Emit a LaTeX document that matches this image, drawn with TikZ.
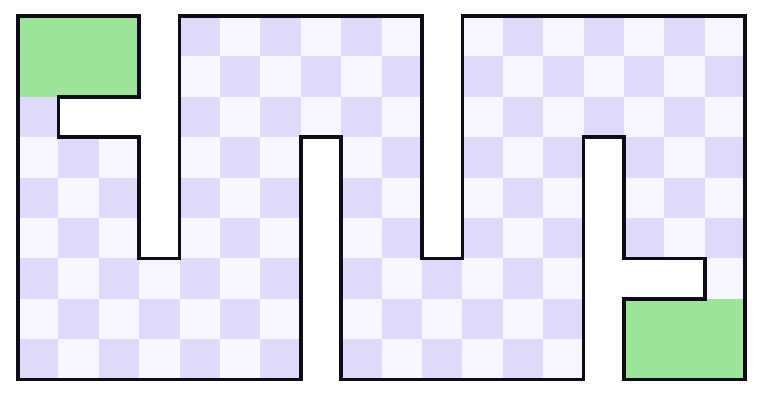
\documentclass[tikz,border=0pt]{standalone}
\definecolor{cellA}{HTML}{DEDBFA}
\definecolor{cellB}{HTML}{F7F6FE}
\definecolor{goal}{HTML}{9DE49A}
\definecolor{wall}{HTML}{0D0D1A}
\tikzset{
  outline/.style={draw=wall, line width=3.6pt, line join=miter},
  darkcell/.style={fill=cellA},
  lightcell/.style={fill=cellB},
  goalcell/.style={fill=goal}
}
\begin{document}
\begin{tikzpicture}[x=40.4pt,y=-40.4pt]
\useasboundingbox[fill=white] (-0.4455,-0.396) rectangle (18.391,9.851);
\def\shapepath{(0,0) -- (3,0) -- (3,2) -- (1,2) -- (1,3) -- (3,3) -- (3,6) -- (4,6) -- (4,0) -- (10,0) -- (10,6) -- (11,6) -- (11,0) -- (18,0) -- (18,9) -- (15,9) -- (15,7) -- (17,7) -- (17,6) -- (15,6) -- (15,3) -- (14,3) -- (14,9) -- (8,9) -- (8,3) -- (7,3) -- (7,9) -- (0,9) -- cycle}
\begin{scope}
  \clip \shapepath;
  \fill[lightcell] (0,0) rectangle (18,9);
  \foreach \i in {0,...,17}{
    \foreach \j in {0,...,8}{
      \pgfmathtruncatemacro\parity{mod(\i+\j,2)}
      \ifnum\parity=0
        \fill[darkcell] (\i,\j) rectangle ++(1,1);
      \fi
    }
  }
  \fill[goalcell] (0,0) rectangle (3,2);
  \fill[goalcell] (15,7) rectangle (18,9);
\end{scope}
\draw[outline] \shapepath;
\end{tikzpicture}
\end{document}
